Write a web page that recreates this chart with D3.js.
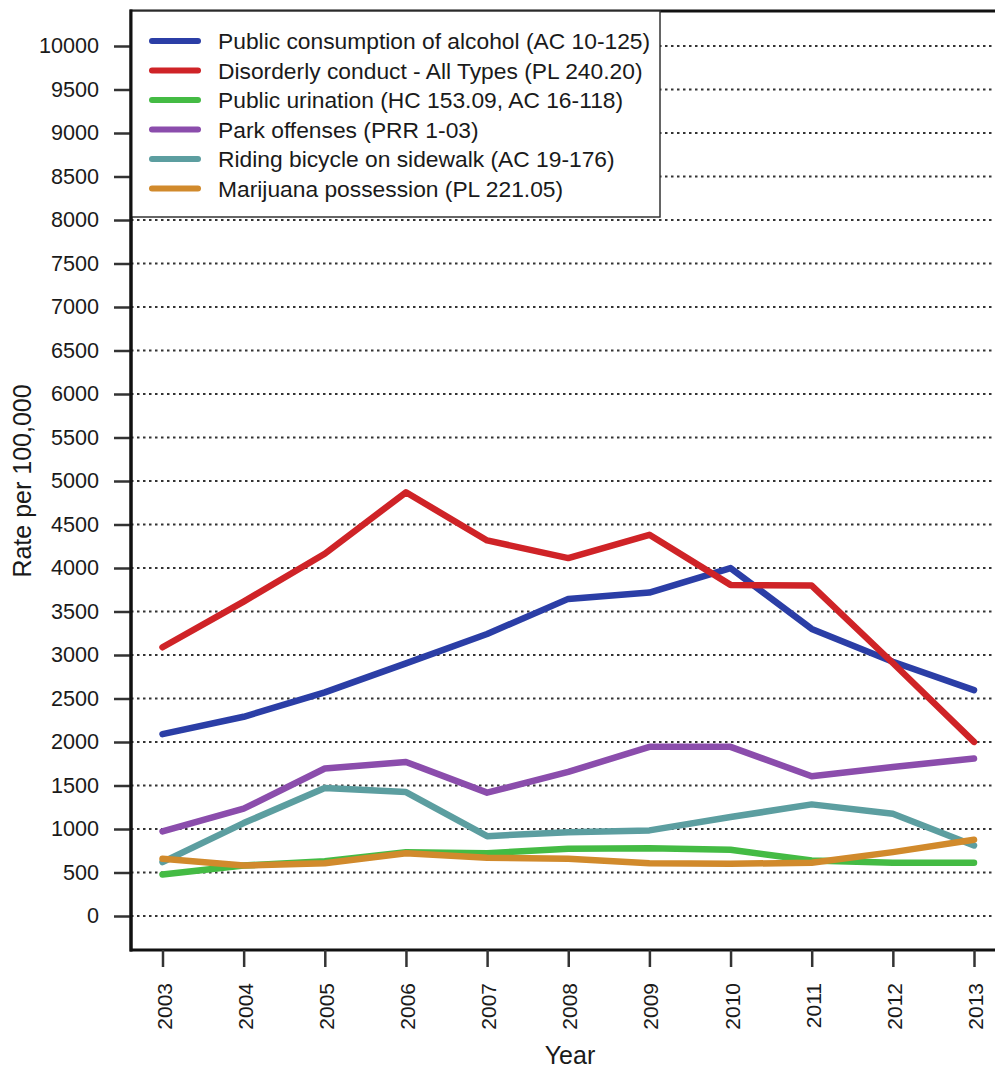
<!DOCTYPE html>
<html><head><meta charset="utf-8">
<script src="https://cdn.jsdelivr.net/npm/d3@7"></script>
<style>body{margin:0;background:#fff;overflow:hidden}svg{display:block}text{font-family:"Liberation Sans",Arial,Helvetica,sans-serif;fill:#1a1a1a}</style>
</head><body>
<script>
const years = [2003,2004,2005,2006,2007,2008,2009,2010,2011,2012,2013];
const seriesNames = [
  "Public consumption of alcohol (AC 10-125)",
  "Disorderly conduct - All Types (PL 240.20)",
  "Public urination (HC 153.09, AC 16-118)",
  "Park offenses (PRR 1-03)",
  "Riding bicycle on sidewalk (AC 19-176)",
  "Marijuana possession (PL 221.05)"
];
const seriesColors = ["#2b3ea6","#cf2327","#44bb44","#8b4dac","#5c9ea0","#d18a2c"];
const alcohol    = [2090,2290,2570,2904,3242,3645,3718,3999,3300,2923,2597];
const disorderly = [3089,3614,4164,4870,4317,4114,4382,3806,3798,2908,2001];
const urination  = [477,580,630,734,722,773,780,761,638,612,612];
const park       = [972,1234,1695,1771,1418,1656,1944,1944,1606,1713,1810];
const bicycle    = [619,1068,1471,1425,918,964,984,1137,1283,1176,811];
const marijuana  = [658,580,607,722,669,658,607,600,612,734,877];
const seriesValues = [alcohol,disorderly,urination,park,bicycle,marijuana];
const yTicks = d3.range(0,10001,500);

const W=995,H=1069;
const svg=d3.select("body").append("svg").attr("width",W).attr("height",H);
const x=d3.scaleLinear().domain([2003,2013]).range([162.5,974]);
const y=d3.scaleLinear().domain([0,10000]).range([916,46]);
const L=131,T=11,B=950,R=1012;

// gridlines
svg.append("g").selectAll("line").data(yTicks).join("line")
  .attr("x1",L).attr("x2",W).attr("y1",d=>y(d)).attr("y2",d=>y(d))
  .attr("stroke","#333").attr("stroke-width",2).attr("stroke-dasharray","2.5,3.5");

// frame
svg.append("path").attr("d",`M${L},${T}H${R}V${B}H${L}Z`).attr("fill","none")
  .attr("stroke","#111").attr("stroke-width",3);

// y axis
const ya=svg.append("g").attr("transform",`translate(${L},0)`)
  .call(d3.axisLeft(y).tickValues(yTicks).tickSize(17).tickPadding(15).tickFormat(d3.format("d")));
ya.select(".domain").remove();
ya.selectAll("line").attr("stroke","#333").attr("stroke-width",2.5);
ya.selectAll("text").attr("font-size",21.6).style("font-family","'Liberation Sans',Arial,sans-serif").attr("fill","#1a1a1a");

// x axis
const xa=svg.append("g").attr("transform",`translate(0,${B})`)
  .call(d3.axisBottom(x).tickValues(years).tickSize(17).tickFormat(d3.format("d")));
xa.select(".domain").remove();
xa.selectAll("line").attr("stroke","#333").attr("stroke-width",2.5);
xa.selectAll("text").attr("font-size",21).style("font-family","'Liberation Sans',Arial,sans-serif").attr("fill","#1a1a1a")
  .attr("transform","rotate(-90)").attr("text-anchor","end").attr("x",-33).attr("y",1).attr("dy","0.36em");

// lines
const line=d3.line().x((d,i)=>x(years[i])).y(d=>y(d));
seriesValues.forEach((vals,k)=>{
  svg.append("path").datum(vals).attr("d",line).attr("fill","none")
    .attr("stroke",seriesColors[k]).attr("stroke-width",6.5)
    .attr("stroke-linejoin","round").attr("stroke-linecap","round");
});

// legend
const lg=svg.append("g");
lg.append("rect").attr("x",L).attr("y",T).attr("width",529).attr("height",206)
  .attr("fill","#fff").attr("stroke","#333").attr("stroke-width",1.5);
seriesNames.forEach((n,i)=>{
  const yy=41+i*29.5;
  lg.append("line").attr("x1",152).attr("x2",198).attr("y1",yy).attr("y2",yy)
    .attr("stroke",seriesColors[i]).attr("stroke-width",6).attr("stroke-linecap","round");
  lg.append("text").attr("x",218).attr("y",yy).attr("dy","0.36em").attr("font-size",22.8).text(n);
});
// left axis line on top
svg.append("line").attr("x1",L).attr("x2",L).attr("y1",T-1.5).attr("y2",B+1.5)
  .attr("stroke","#111").attr("stroke-width",3);

// titles
svg.append("text").attr("x",570).attr("y",1064).attr("text-anchor","middle").attr("font-size",25).text("Year");
svg.append("text").attr("transform","translate(31,481) rotate(-90)").attr("text-anchor","middle").attr("font-size",25).text("Rate per 100,000");
</script>
</body></html>
